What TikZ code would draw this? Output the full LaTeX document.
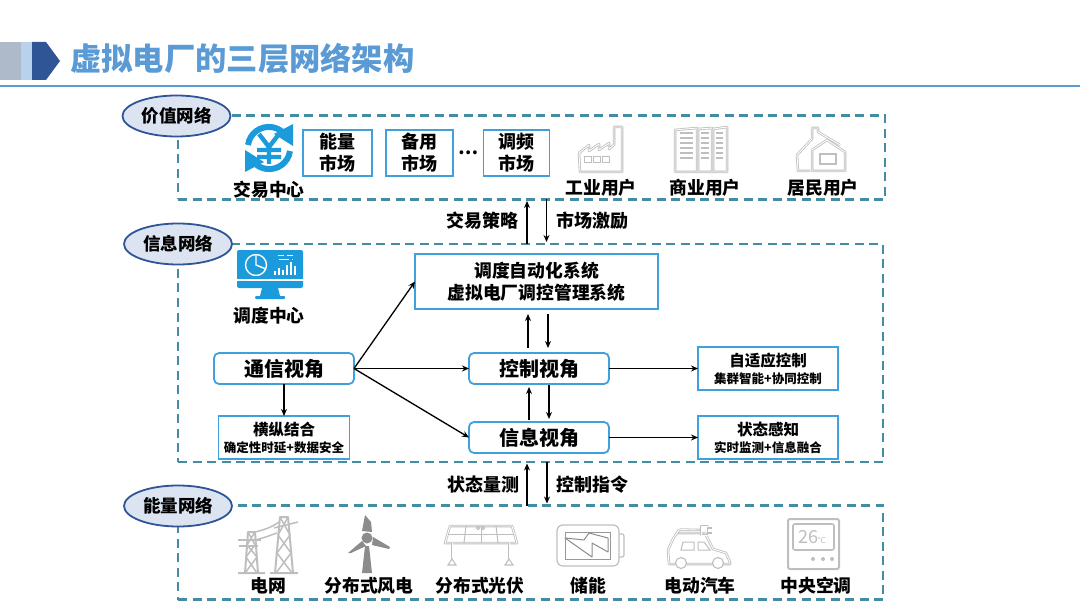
\documentclass[tikz,border=0pt]{standalone}
\usepackage{fontspec}
\setmainfont{Noto Sans CJK SC}
\usepackage{tikz}
\usetikzlibrary{positioning,arrows.meta,shapes.geometric,calc}
\definecolor{tituloazul}{RGB}{91,155,213}
\definecolor{tituloclaro}{RGB}{183,210,234}
\definecolor{titulogris}{RGB}{174,185,201}
\definecolor{marcoteal}{RGB}{66,141,165}
\definecolor{cajaazul}{RGB}{62,160,220}
\definecolor{ovalazul}{RGB}{47,85,151}
\definecolor{ovalfondo}{RGB}{220,228,242}
\definecolor{iconogris}{RGB}{190,190,190}
\definecolor{palagris}{RGB}{140,140,140}
\definecolor{iconoazul}{RGB}{28,155,220}
\newcommand{\fsz}[1]{\fontsize{#1}{#1}\selectfont}

\begin{document}
\begin{tikzpicture}[x=1pt,y=-1pt,
  netframe/.style={draw=marcoteal, line width=2.1pt, dash pattern=on 9pt off 5.5pt,
               outer sep=0pt, inner sep=0pt},
  netoval/.style={ellipse, draw=ovalazul, fill=ovalfondo, line width=1.8pt, inner sep=0pt,
               minimum width=108pt, minimum height=41pt, font=\fsz{17.5}\bfseries},
  mktbox/.style={draw=cajaazul, line width=1.8pt, fill=white, minimum height=46pt, inner sep=0pt,
               align=center, outer sep=0pt, font=\fontsize{18}{22}\selectfont\bfseries},
  viewbox/.style={draw=cajaazul, line width=1.8pt, fill=white, rounded corners=5pt, inner sep=0pt,
               minimum width=140pt, minimum height=31pt, outer sep=0pt, font=\fsz{20}\bfseries},
  subbox/.style={draw=cajaazul, line width=1.8pt, fill=white, inner sep=0pt, outer sep=0pt,
               minimum width=#1, minimum height=43pt, align=center,
               font=\fontsize{15.5}{17}\selectfont\bfseries},
  subbox/.default=140pt,
  tag/.style={font=\fsz{17.8}\bfseries, inner sep=0pt},
  flecha/.style={-{Stealth[length=7pt,width=6pt]}, line width=1.3pt, color=black},
  flechas/.style={flecha, shorten <=5pt, shorten >=5pt},
  linea/.style={draw=iconogris, line width=.8pt, double=white, double distance=.9pt, line join=round},
  fino/.style={draw=iconogris, line width=1.5pt, line join=round}]
  \useasboundingbox (0,0) rectangle (1080,607);

  \fill[titulogris] (0,42) rectangle (21,80);
  \fill[tituloclaro] (21,42) rectangle (32,80);
  \fill[ovalazul] (32,42) -- (46,42) -- (60,61) -- (46,80) -- (32,80) -- cycle;
  \node[font=\fsz{31.3}\bfseries, text=tituloazul, inner sep=0pt, anchor=west] (titulo) at (70,59) {虚拟电厂的三层网络架构};
  \draw[tituloazul, line width=2.5pt] (0,86) -- (1080,86);

  \node[netframe, minimum width=707pt, minimum height=84pt] (valf) at (531.5,157.5) {};
  \node[netframe, minimum width=705pt, minimum height=218pt] (inff) at (530.5,353) {};
  \node[netframe, minimum width=705pt, minimum height=94pt] (enef) at (530.5,552.5) {};
  \node[netoval] (valo) at (176.5,116) {价值网络};
  \node[netoval] (info) at (178,244) {信息网络};
  \node[netoval] (eneo) at (178,506) {能量网络};

  \begin{scope}[shift={(269,148)}, iconoazul]
    \draw[line width=6pt] (-21,-3) arc[start angle=-172, end angle=-50, radius=21];
    \fill (24,-24) -- (24,-2) -- (5,-14) -- cycle;
    \draw[line width=6pt] (21,3) arc[start angle=8, end angle=130, radius=21];
    \fill (-24,24) -- (-24,2) -- (-5,14) -- cycle;
    \draw[line width=4.4pt] (-10,-14) -- (0,-1) -- (10,-14) (-12,2) -- (12,2) (-12,9) -- (12,9) (0,-1) -- (0,16);
  \end{scope}
  \node[tag] (jiao) at (269,190) {交易中心};
  \node[mktbox, minimum width=69pt] (energia) at (337.5,153) {能量\\市场};
  \node[mktbox, minimum width=67pt, right=14pt of energia] (reserva) {备用\\市场};
  \node[tag, right=5pt of reserva] (puntos) {…};
  \node[mktbox, minimum width=66pt, right=5pt of puntos] (tiaopin) {调频\\市场};

  \begin{scope}[shift={(579,127)}]
    \draw[linea] (1,45) -- (0,26) -- (10,18) -- (10,24) -- (20,17) -- (20,23) -- (30,16) -- (30,22)
      -- (35,18) -- (35,0) -- (43,0) -- (43,45) -- cycle;
    \foreach \x in {5,14,23} \draw[iconogris, line width=1pt] (\x,30) rectangle ++(7,6);
  \end{scope}
  \node[tag] (ind) at (601,188) {工业用户};
  \begin{scope}[shift={(675,127)}]
    \draw[linea] (0,3) -- (22,1) -- (22,45) -- (0,45) -- cycle;
    \draw[linea] (23,2) -- (37,1) -- (37,45) -- (23,45) -- cycle;
    \draw[linea] (38,2) -- (52,0) -- (52,45) -- (38,45) -- cycle;
    \foreach \y in {6,11,16,21,26,31} {
      \draw[iconogris, line width=1.5pt] (5,\y) -- (18,\y) (26,\y) -- (34,\y) (41,\y) -- (48,\y);
    }
  \end{scope}
  \node[tag] (com) at (705,188) {商业用户};
  \begin{scope}[shift={(796,127)}]
    \draw[linea] (14,44) -- (2,44) -- (1,28) -- (16,12) -- (16,1) -- (22,1) -- (22,5) -- (44,18);
    \draw[linea] (16,44) -- (16,23) -- (31,13) -- (49,25) -- (49,44) -- cycle;
    \draw[iconogris, line width=1.2pt] (24,27) rectangle (40,37);
  \end{scope}
  \node[tag] (res) at (823,188) {居民用户};

  \draw[flecha, shorten >=1.5pt] ([xshift=-3.5pt]inff.north) -- ([xshift=-4.5pt]valf.south);
  \draw[flecha, shorten >=2pt] ([xshift=15pt]valf.south) -- ([xshift=16pt]inff.north);
  \node[tag, font=\fsz{18}\bfseries] (estr) at (482,221) {交易策略};
  \node[tag, font=\fsz{18}\bfseries] (inc) at (592,221) {市场激励};

  \begin{scope}[shift={(237,250)}]
    \fill[iconoazul, rounded corners=2pt] (0,0) rectangle (66,38);
    \draw[white, line width=1.2pt] (0,30) -- (66,30);
    \fill[iconoazul] (25,38) -- (41,38) -- (43,46) -- (23,46) -- cycle;
    \fill[iconoazul, rounded corners=1pt] (18,46) rectangle (48,49);
    \draw[white, line width=1.4pt] (19,15) circle[radius=10.5];
    \draw[white, line width=1.4pt] (19,5) -- (19,15) -- (29,19);
    \foreach \x/\h in {38/4,42/7,46/5,50/10,54/13,58/9} \draw[white, line width=1.3pt] (\x,25) -- ++(0,-\h);
    \draw[white, line width=1pt] (41,5) -- (47,5) (50,5) -- (56,5) (42,9) -- (52,9) (55,9) -- (56,9);
  \end{scope}
  \node[tag] (desp) at (269,316) {调度中心};

  \node[viewbox] (contr) at (539,368.5) {控制视角};
  \node[viewbox, below=38pt of contr] (infv) {信息视角};
  \node[viewbox] (comv) at (284,368.5) {通信视角};
  \node[subbox=131pt, below=32pt of comv] (heng) {横纵结合\\{\fsz{12.5}\bfseries 确定性时延+数据安全}};
  \node[subbox=243pt, minimum height=55pt, font=\fontsize{17.8}{22}\selectfont\bfseries,
        above=44pt of contr, xshift=-2.5pt] (auto) {\rule{0pt}{15pt}调度自动化系统\\虚拟电厂调控管理系统};
  \node[subbox, right=89pt of contr] (adapt) {自适应控制\\{\fsz{12.5}\bfseries 集群智能+协同控制}};
  \node[subbox, right=89pt of infv] (perc) {状态感知\\{\fsz{12.5}\bfseries 实时监测+信息融合}};

  \draw[flecha] (comv.south) -- (heng.north);
  \draw[flecha] (comv.east) -- (auto.west);
  \draw[flecha] (comv.east) -- (contr.west);
  \draw[flecha] (comv.east) -- (infv.west);
  \draw[flecha] (contr.east) -- (adapt.west);
  \draw[flecha] (infv.east) -- (perc.west);
  \draw[flechas] ([xshift=-11pt]contr.north) -- ([xshift=-8.5pt]auto.south);
  \draw[flechas] ([xshift=11.5pt]auto.south) -- ([xshift=9pt]contr.north);
  \draw[flechas, shorten <=2pt, shorten >=3pt] ([xshift=-10pt]infv.north) -- ([xshift=-10pt]contr.south);
  \draw[flechas, shorten <=1pt, shorten >=3pt] ([xshift=10pt]contr.south) -- ([xshift=10pt]infv.north);

  \draw[flecha, shorten >=1.5pt] ([xshift=-3.5pt]enef.north) -- ([xshift=-3.5pt]inff.south);
  \draw[flecha, shorten >=2pt] ([xshift=16.5pt]inff.south) -- ([xshift=16.5pt]enef.north);
  \node[tag, font=\fsz{18}\bfseries] (med) at (483,485) {状态量测};
  \node[tag, font=\fsz{18}\bfseries] (cmd) at (592,485) {控制指令};

  \begin{scope}[shift={(238,515)}]
    \draw[fino, line width=2pt] (7,58) -- (10,17) -- (17,17) -- (20,58) (0,58) -- (27,58);
    \draw[fino] (10,17) -- (17,30) -- (8,42) -- (19,58) (17,17) -- (9,30) -- (19,42) -- (7,58);
    \draw[fino] (0,25) -- (23,25) (1,31) -- (20,31);
    \draw[fino, line width=2pt] (37,58) -- (42,2) -- (50,2) -- (55,58) (32,58) -- (60,58);
    \draw[fino] (42,2) -- (52,20) -- (39,38) -- (54,58) (50,2) -- (40,20) -- (53,38) -- (38,58);
    \draw[fino] (36,13) -- (60,7) (17,17) .. controls (26,15) and (34,12) .. (41,7) (17,25) .. controls (26,23) and (33,20) .. (39,18);
  \end{scope}
  \node[tag] (red) at (268,586) {电网};

  \fill[palagris] (362,531) -- (365,515) -- (371,522) -- (372,532) -- cycle;
  \fill[palagris] (362,541) -- (348,553) -- (351,553) -- (366,546) -- cycle;
  \fill[palagris] (373,537) -- (390,547) -- (389,549) -- (372,545) -- cycle;
  \fill[palagris] (365,546) -- (369,546) -- (372,573) -- (362,573) -- cycle;
  \fill[palagris] (367,538) circle[radius=5.5];
  \node[tag] (eol) at (369,586) {分布式风电};

  \begin{scope}[shift={(445,525)}]
    \draw[linea] (5,1) -- (67,1) -- (72,18) -- (0,18) -- cycle;
    \foreach \a/\b in {21/19,36/36,51/53} \draw[iconogris, line width=1pt] (\a,1) -- (\b,18);
    \draw[iconogris, line width=1pt] (3,9) -- (69,9);
    \draw[iconogris, line width=1pt] (33,3) circle[radius=1.6] (38,3) circle[radius=1.6];
    \draw[linea] (7,18) -- (7,35) (64,18) -- (64,35);
    \draw[iconogris, line width=1.1pt] (7,34) -- (11,40) -- (3,40) -- cycle (64,34) -- (68,40) -- (60,40) -- cycle;
  \end{scope}
  \node[tag] (sol) at (480,586) {分布式光伏};

  \begin{scope}[shift={(557,525)}]
    \draw[iconogris, line width=1.2pt, rounded corners=6pt] (0,0) rectangle (62,41);
    \draw[iconogris, line width=1.2pt, rounded corners=2pt] (62,9) -- (67,9) -- (67,32) -- (62,32);
    \draw[iconogris!80!black, line width=1pt] (8,7) rectangle (53,34);
    \draw[palagris, fill=white, line width=1pt, line join=round] (32,8) -- (51,13) -- (51,27) -- (35,18) -- (35,32) -- (8,13) -- (27,15) -- cycle;
  \end{scope}
  \node[tag] (alm) at (588,586) {储能};

  \begin{scope}[shift={(668,524)}]
    \draw[linea] (1,40) -- (0,26) -- (5,15) -- (9,9) -- (37,9) -- (45,25) -- (58,29) -- (62,38) -- (62,40) -- cycle;
    \draw[iconogris, fill=white, line width=1.1pt] (13,39) circle[radius=5.5] (50,39) circle[radius=5.5];
    \draw[iconogris, line width=1pt] (15,18) -- (26,18) -- (26,26) -- (13,26) -- cycle (30,18) -- (36,18) -- (42,26) -- (30,26) -- cycle;
    \draw[linea] (9,9) .. controls (10,4) and (14,6) .. (33,6);
    \draw[linea] (33,2) rectangle (40,11);
    \draw[iconogris, line width=1.2pt] (40,4) -- (44,4) (40,9) -- (44,9);
  \end{scope}
  \node[tag] (ev) at (700,586) {电动汽车};

  \begin{scope}[shift={(788,519)}]
    \draw[iconogris, line width=2pt, rounded corners=2pt] (0,0) rectangle (51,50);
    \draw[iconogris, line width=1.6pt, rounded corners=2pt] (5,5) rectangle (46,31);
    \node[text=iconogris, inner sep=0pt] (grados) at (24,18) {\fsz{18}26\fsz{8}℃};
    \foreach \x in {25,35,44} \fill[iconogris] (\x,40) circle[radius=2];
  \end{scope}
  \node[tag] (aire) at (816,586) {中央空调};
\end{tikzpicture}
\end{document}
